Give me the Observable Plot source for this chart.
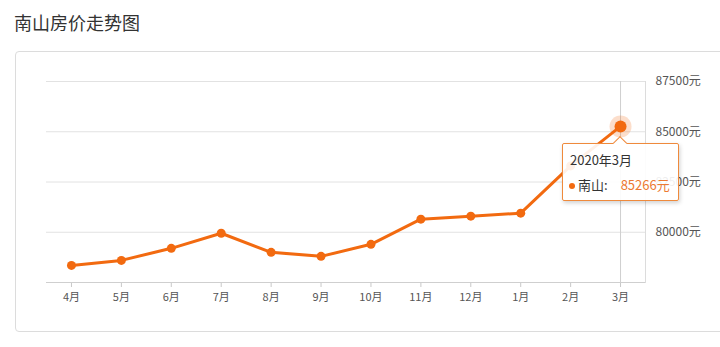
<!DOCTYPE html>
<html>
<head>
<meta charset="utf-8">
<script src="https://cdn.jsdelivr.net/npm/d3@7"></script>
<script src="https://cdn.jsdelivr.net/npm/@observablehq/plot@0.6"></script>
<style>
  body { margin:0; background:#fff; font-family:"Noto Sans CJK SC","Noto Sans",sans-serif; }
  #wrap { position:relative; width:720px; height:347px; overflow:hidden; }
  #title { position:absolute; left:14px; top:8px; font-size:18px; color:#333; line-height:28px; }
  #card { position:absolute; left:15px; top:51px; width:720px; height:281px; border:1px solid #dcdcdc; border-radius:4px; box-sizing:border-box; }
  #chart { position:absolute; left:0; top:0; }
  #chart svg { font-family:"Noto Sans CJK SC","Noto Sans",sans-serif; }
  [aria-label^="y-axis"] text { font-size:12px; }
  [aria-label^="x-axis"] line, [aria-label="x-axis tick"] path { stroke:#c8c8c8; }
  #tip { position:absolute; width:117px; height:58px; box-sizing:border-box; border:1px solid #ef8a3c;
         background:rgba(255,255,255,0.9); border-radius:2px; box-shadow:1px 2px 4px rgba(0,0,0,0.18);
         font-size:13px; color:#333; }
  #tip .arrow { position:absolute; left:52px; top:-6px; width:9px; height:9px; background:#fff;
         border-left:1px solid #ef8a3c; border-top:1px solid #ef8a3c; transform:rotate(45deg); }
  #tip .t1 { position:absolute; left:7px; top:6px; }
  #tip .t2 { position:absolute; left:6px; top:31px; white-space:nowrap; }
  #tip .dot { display:inline-block; width:6px; height:6px; border-radius:50%; background:#f26a10; margin-right:3px; vertical-align:1px; }
  #tip .val { color:#ec7a32; margin-left:13px; }
</style>
</head>
<body>
<div id="wrap">
  <div id="title">南山房价走势图</div>
  <div id="card"></div>
  <div id="chart"></div>
</div>
<script>
const months = ["4月","5月","6月","7月","8月","9月","10月","11月","12月","1月","2月","3月"];
const prices = [78350, 78600, 79200, 79950, 79000, 78800, 79400, 80650, 80800, 80950, 83300, 85266];
const yTicks = [80000, 82500, 85000, 87500];
const yDomain = [77500, 87500];
const seriesName = "南山";
const tipTitle = "2020年3月";
const unit = "元";

const data = months.map((m, i) => ({month: m, price: prices[i]}));
const last = data[data.length - 1];
const orange = "#f26a10";

const plot = Plot.plot({
  width: 720,
  height: 347,
  marginLeft: 46,
  marginRight: 75,
  marginTop: 81,
  marginBottom: 65,
  style: {fontSize: "11px", color: "#555", background: "transparent"},
  x: {type: "point", domain: months, padding: 0.5, round: false, label: null, tickSize: 5, tickPadding: 6},
  y: {domain: yDomain, label: null, axis: "right", ticks: yTicks, tickSize: 0, tickPadding: 10, tickFormat: d => d + unit},
  marks: [
    Plot.ruleY(yTicks, {stroke: "#e2e2e2"}),
    Plot.ruleY([yDomain[0]], {stroke: "#cfcfcf"}),
    Plot.frame({anchor: "right", stroke: "#dcdcdc"}),
    Plot.ruleX([last], {x: "month", stroke: "#cfcfcf"}),
    Plot.line(data, {x: "month", y: "price", stroke: orange, strokeWidth: 3}),
    Plot.dot(data, {x: "month", y: "price", r: 4.5, fill: orange}),
    Plot.dot([last], {x: "month", y: "price", r: 11, fill: orange, fillOpacity: 0.22}),
    Plot.dot([last], {x: "month", y: "price", r: 6, fill: orange})
  ]
});
document.getElementById("chart").appendChild(plot);

const px = plot.scale("x").apply(last.month);
const py = plot.scale("y").apply(last.price);
const tip = document.createElement("div");
tip.id = "tip";
tip.style.left = Math.round(px - 58) + "px";
tip.style.top = Math.round(py + 17) + "px";
tip.innerHTML = `<div class="arrow"></div><div class="t1">${tipTitle}</div>` +
  `<div class="t2"><span class="dot"></span>${seriesName}:<span class="val">${last.price}${unit}</span></div>`;
document.getElementById("wrap").appendChild(tip);
</script>
</body>
</html>
